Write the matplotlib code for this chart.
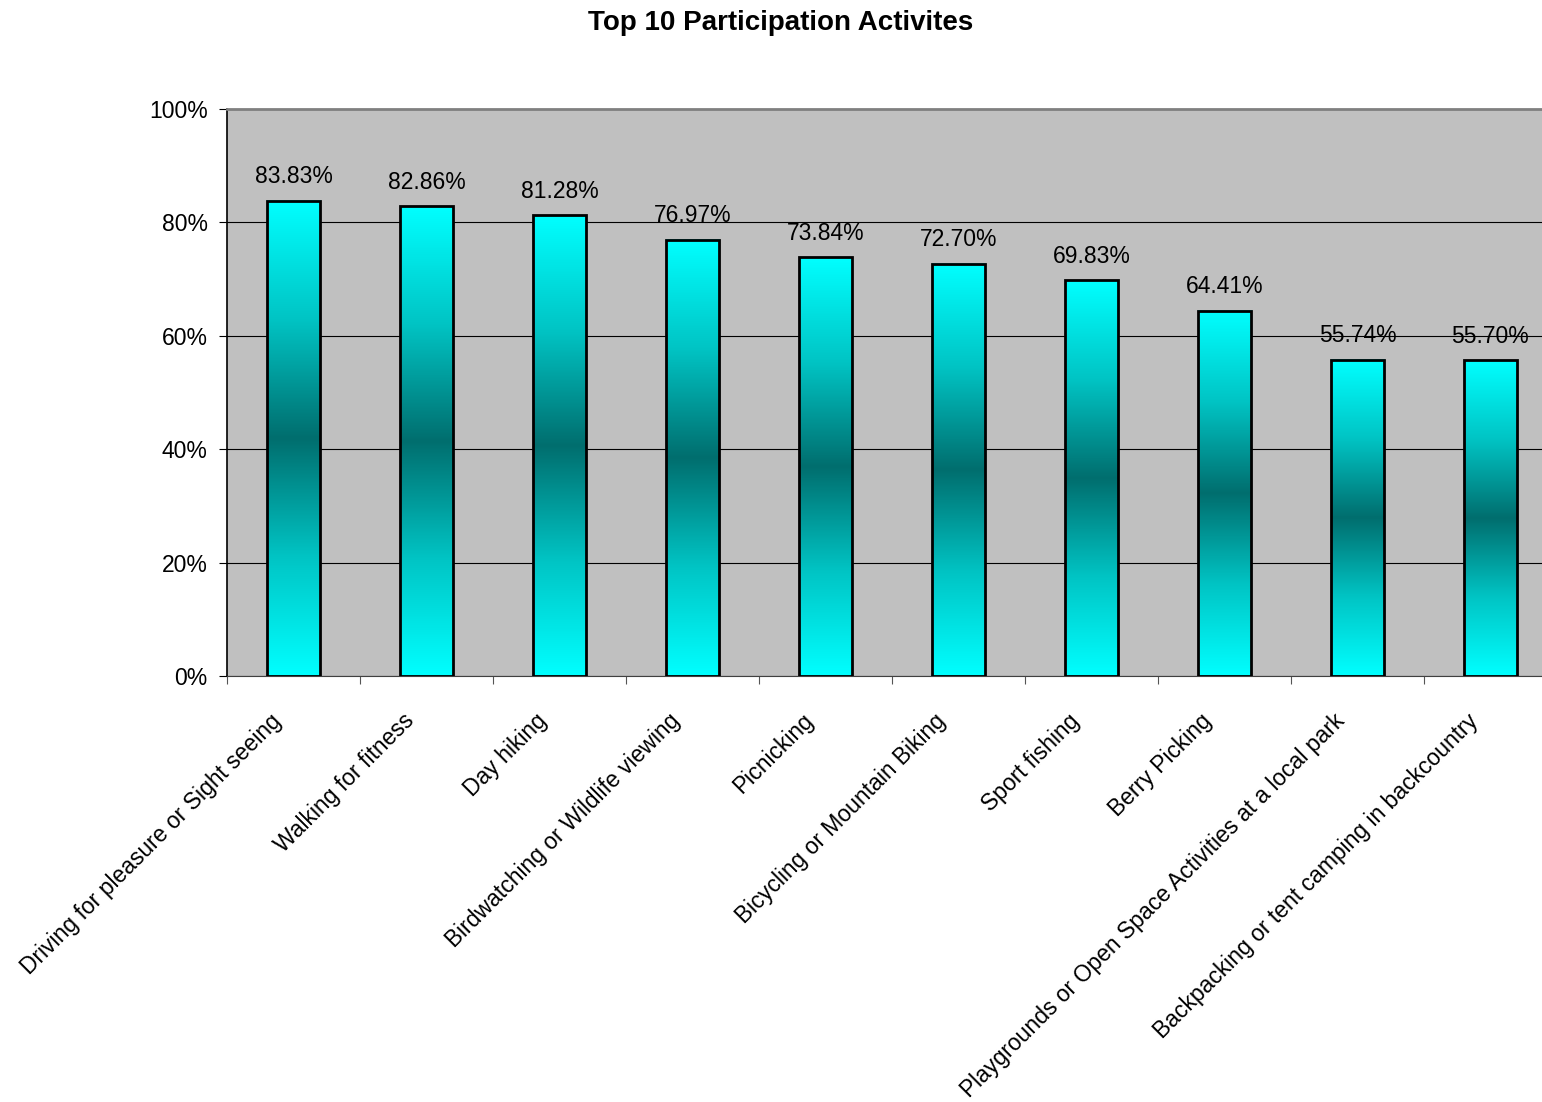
import numpy as np
import matplotlib.pyplot as plt
import matplotlib.transforms as mtransforms
from matplotlib.colors import LinearSegmentedColormap

plt.rcParams['font.family'] = ['Liberation Sans', 'DejaVu Sans']

activities = ["Driving for pleasure or Sight seeing", "Walking for fitness",
              "Day hiking", "Birdwatching or Wildlife viewing", "Picnicking",
              "Bicycling or Mountain Biking", "Sport fishing", "Berry Picking",
              "Playgrounds or Open Space Activities at a local park",
              "Backpacking or tent camping in backcountry"]
pct = [83.83, 82.86, 81.28, 76.97, 73.84, 72.70, 69.83, 64.41, 55.74, 55.70]

# cyan -> dark teal -> cyan, darkest half way up each bar
grad = LinearSegmentedColormap.from_list(
    'tealband', ['#00ffff', '#00c4c4', '#006e6e', '#00c4c4', '#00ffff'])

fig = plt.figure(figsize=(15.42, 11.02), dpi=100)
ax = fig.add_axes([0.1472, 0.3866, 0.8625, 0.5145])
ax.set_facecolor('#c0c0c0')

w = 0.405
x = np.arange(len(pct))
ramp = np.linspace(0, 1, 256).reshape(-1, 1)
for xi, v in zip(x, pct):
    ax.imshow(ramp, cmap=grad, aspect='auto', origin='lower',
              extent=(xi - w / 2, xi + w / 2, 0, v), zorder=2)
    ax.bar(xi, v, width=w, facecolor='none', edgecolor='black',
           linewidth=2, zorder=3)
    ax.text(xi, v + 2.2, '%.2f%%' % v, ha='center', va='bottom',
            fontsize=16.5, zorder=4)

ax.set_xlim(-0.5, len(pct) - 0.5)
ax.set_ylim(0, 100)
ax.set_yticks(np.arange(0, 101, 20))
ax.set_yticklabels(['%d%%' % t for t in range(0, 101, 20)], fontsize=16.5)
ax.yaxis.grid(True, color='black', linewidth=0.8, zorder=1)
ax.set_axisbelow(True)

# ticks at the category boundaries, labels at the bar centres
ax.set_xticks(np.arange(-0.5, len(pct), 1.0))
ax.set_xticklabels([])
ax.set_xticks(x, minor=True)
ax.set_xticklabels(activities, minor=True, rotation=45, ha='right',
                   rotation_mode='anchor', fontsize=16.5)
ax.tick_params(axis='x', which='minor', length=0, pad=14)
ax.tick_params(axis='x', which='major', length=6, color='#555555')
ax.tick_params(axis='y', length=6, pad=8)
shift = mtransforms.ScaledTranslation(-24 / 100, -14 / 100, fig.dpi_scale_trans)
for lbl in ax.get_xticklabels(minor=True):
    lbl.set_transform(lbl.get_transform() + shift)

ax.spines['top'].set_color('#808080')
ax.spines['top'].set_linewidth(2)
ax.spines['right'].set_visible(False)
ax.spines['left'].set_linewidth(1.2)
ax.spines['bottom'].set_color('#404040')

fig.text(0.506, 0.979, 'Top 10 Participation Activites', ha='center',
         va='center', fontsize=20, fontweight='bold')

fig.savefig('out.png', dpi=100)
